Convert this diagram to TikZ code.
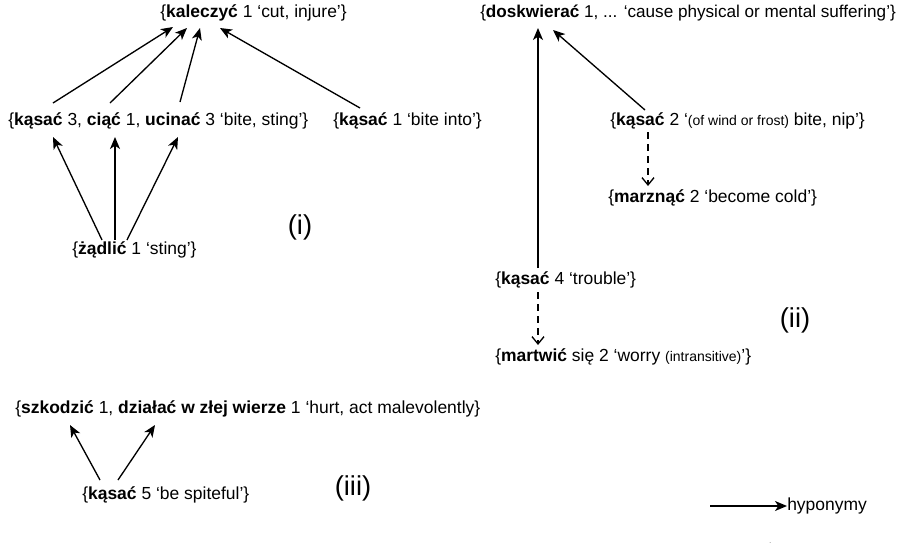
\documentclass[tikz,border=0pt]{standalone}
\usepackage{fontspec}
\setmainfont{Liberation Sans}
\usetikzlibrary{arrows.meta,calc}
\begin{document}
\begin{tikzpicture}[x=0.75pt,y=-0.75pt,
  lex/.style={inner sep=0pt,anchor=west,font=\fontsize{13.1}{15}\selectfont},
  tag/.style={inner sep=0pt,font=\fontsize{20.5}{23}\selectfont},
  hyp/.style={line width=1pt,-{Stealth[length=9pt,width=7.5pt,inset=2.5pt]}},
  rel/.style={line width=1pt,dash pattern=on 5pt off 4pt,-{Straight Barb[length=5.5pt,width=9pt]}}]
\newcommand{\sm}[1]{{\fontsize{10.5}{12}\selectfont #1}}
\useasboundingbox (0,0) rectangle (897,543);
\clip (0,0) rectangle (897,543);

% (i)
\node[lex] (kal) at (160,13) {\{\textbf{kaleczyć} 1 ‘cut, injure’\}};
\node[lex] (r2)  at (8,121) {\{\textbf{kąsać} 3, \textbf{ciąć} 1, \textbf{ucinać} 3 ‘bite, sting’\}};
\node[lex] (bi)  at (333,121) {\{\textbf{kąsać} 1 ‘bite into’\}};
\node[lex] (zad) at (72,250) {\{\textbf{żądlić} 1 ‘sting’\}};
\node[tag] (ti) at (300,227) {(i)};

\draw[hyp] ($(r2.west)+(45,-18)$) -- ($(kal.west)+(13,14)$);
\draw[hyp] ($(r2.west)+(102,-18)$) -- ($(kal.west)+(27,15)$);
\draw[hyp] ($(r2.west)+(172,-19)$) -- ($(kal.west)+(40,15)$);
\draw[hyp] ($(bi.west)+(27,-13)$) -- ($(kal.west)+(60,15)$);
\draw[hyp] ($(zad.west)+(30,-10)$) -- ($(r2.west)+(45,16)$);
\draw[hyp] ($(zad.west)+(43,-10)$) -- ($(r2.west)+(107,16)$);
\draw[hyp] ($(zad.west)+(55,-10)$) -- ($(r2.west)+(170,16)$);

% (ii)
\node[lex,font=\fontsize{12.85}{15}\selectfont] (dosk) at (480,13) {\{\textbf{doskwierać} 1, ... ‘cause physical or mental suffering’\}};
\node[lex] (k2)   at (610,121) {\{\textbf{kąsać} 2 ‘\sm{(of wind or frost)} bite, nip’\}};
\node[lex] (marz) at (608,198) {\{\textbf{marznąć} 2 ‘become cold’\}};
\node[lex] (k4)   at (495,280) {\{\textbf{kąsać} 4 ‘trouble’\}};
\node[lex] (mart) at (495,357) {\{\textbf{martwić} się 2 ‘worry \sm{(intransitive)}’\}};
\node[tag] (tii) at (795,320) {(ii)};

\draw[hyp] ($(k4.west)+(43,-12)$) -- ($(dosk.west)+(58,15)$);
\draw[hyp] ($(k2.west)+(35,-11)$) -- ($(dosk.west)+(73,17)$);
\draw[rel] ($(k2.west)+(38,11)$) -- ($(marz.west)+(40,-12)$);
\draw[rel] ($(k4.west)+(43,12)$) -- ($(mart.west)+(43,-12)$);

% (iii)
\node[lex] (szk) at (15,409) {\{\textbf{szkodzić} 1, \textbf{działać w złej wierze} 1 ‘hurt, act malevolently\}};
\node[lex] (k5)  at (82,495) {\{\textbf{kąsać} 5 ‘be spiteful’\}};
\node[tag] (tiii) at (353,488) {(iii)};

\draw[hyp] ($(k5.west)+(18,-15)$) -- ($(szk.west)+(55,16)$);
\draw[hyp] ($(k5.west)+(36,-15)$) -- ($(szk.west)+(140,16)$);

% legend
\coordinate (lgA) at (710,506);
\node[lex] (lhyp) at (787,506) {hyponymy};
\draw[hyp] (lgA) -- (lhyp.west);
\coordinate (lgB) at (710,549);
\coordinate (lgC) at (778,549);
\draw[rel] (lgB) -- (lgC);
\end{tikzpicture}
\end{document}
